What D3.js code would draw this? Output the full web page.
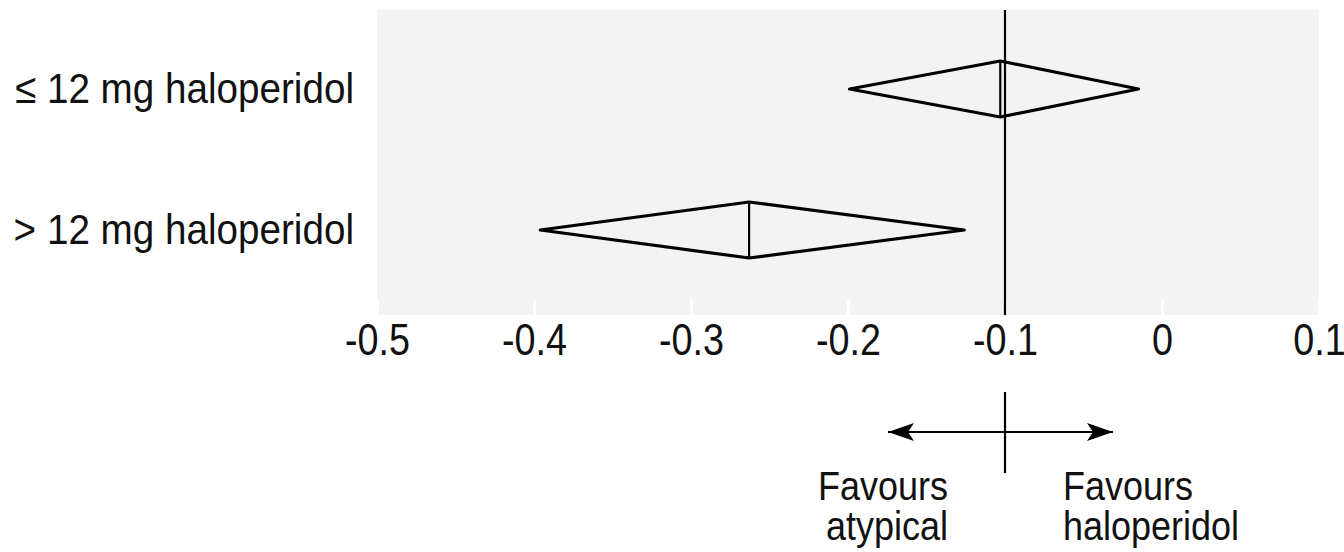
<!DOCTYPE html>
<html>
<head>
<meta charset="utf-8">
<script src="https://cdn.jsdelivr.net/npm/d3@7"></script>
<style>
  html, body { margin: 0; padding: 0; background: #ffffff; }
  svg { display: block; }
  text { font-family: "Liberation Sans", Arial, sans-serif; fill: #111; }
</style>
</head>
<body>
<script>
// ---- data ----
const categories = ["\u2264 12 mg haloperidol", "> 12 mg haloperidol"];
const estimates  = [-0.103, -0.263];
const lowerCI    = [-0.199, -0.396];
const upperCI    = [-0.015, -0.126];
const tickValues = [-0.5, -0.4, -0.3, -0.2, -0.1, 0, 0.1];
const tickLabels = ["-0.5", "-0.4", "-0.3", "-0.2", "-0.1", "0", "0.1"];
const referenceValue = -0.1;
const favourLeft  = ["Favours", "atypical"];
const favourRight = ["Favours", "haloperidol"];

// ---- layout ----
const W = 1344, H = 552;
const panel = { left: 377, right: 1319, top: 10, bottom: 315 };
const FONT = "'Liberation Sans', Arial, sans-serif";

const svg = d3.select("body").append("svg").attr("width", W).attr("height", H);

const x = d3.scaleLinear().domain([-0.5, 0.1]).range([panel.left, panel.right]);
const y = d3.scalePoint().domain(categories).range([89, 230]);

// condensed text helper
function ctext(parent, str, tx, ty, size, sx, anchor) {
  return parent.append("text")
    .attr("transform", `translate(${tx},${ty}) scale(${sx},1)`)
    .attr("font-size", size).attr("text-anchor", anchor)
    .style("font-family", FONT).attr("fill", "#111")
    .text(str);
}

// panel background
svg.append("rect")
  .attr("x", panel.left).attr("y", panel.top)
  .attr("width", panel.right - panel.left).attr("height", panel.bottom - panel.top)
  .attr("fill", "#f3f3f3");

// axis (white ticks inside panel, labels below)
const axis = d3.axisBottom(x).tickValues(tickValues)
  .tickFormat((d, i) => tickLabels[i]).tickSizeInner(-15).tickSizeOuter(0);
const gx = svg.append("g").attr("transform", `translate(0,${panel.bottom})`).call(axis);
gx.select(".domain").remove();
gx.selectAll(".tick line").attr("stroke", "#ffffff").attr("stroke-width", 3);
gx.selectAll(".tick text")
  .attr("y", 40).attr("dy", null)
  .attr("transform", "scale(0.84,1)")
  .attr("font-size", 45).attr("fill", "#111")
  .style("font-family", FONT);

// reference line
svg.append("line")
  .attr("x1", x(referenceValue)).attr("x2", x(referenceValue))
  .attr("y1", panel.top).attr("y2", panel.bottom)
  .attr("stroke", "#000").attr("stroke-width", 2.2);

// diamonds
const halfH = 28;
const rows = categories.map((c, i) => ({ c, est: estimates[i], lo: lowerCI[i], hi: upperCI[i] }));
const g = svg.append("g");
rows.forEach(r => {
  const cy = y(r.c);
  g.append("path")
    .attr("d", `M${x(r.lo)},${cy} L${x(r.est)},${cy - halfH} L${x(r.hi)},${cy} L${x(r.est)},${cy + halfH} Z`)
    .attr("fill", "none").attr("stroke", "#000").attr("stroke-width", 3.2).attr("stroke-linejoin", "round");
  g.append("line")
    .attr("x1", x(r.est)).attr("x2", x(r.est))
    .attr("y1", cy - halfH).attr("y2", cy + halfH)
    .attr("stroke", "#000").attr("stroke-width", 2.2);
});

// category labels
const gl = svg.append("g");
categories.forEach(c => ctext(gl, c, 354, y(c) + 14, 42, 0.92, "end"));

// bottom annotation: cross with arrows
const cx = x(referenceValue), ay = 432;
svg.append("defs").append("marker")
  .attr("id", "arr").attr("viewBox", "0 0 26 18").attr("refX", 26).attr("refY", 9)
  .attr("markerWidth", 26).attr("markerHeight", 18).attr("markerUnits", "userSpaceOnUse")
  .attr("orient", "auto")
  .append("path").attr("d", "M0,0 L26,9 L0,18 L6,9 Z").attr("fill", "#000");
svg.append("line").attr("x1", cx).attr("x2", cx + 108).attr("y1", ay).attr("y2", ay)
  .attr("stroke", "#000").attr("stroke-width", 2.2).attr("marker-end", "url(#arr)");
svg.append("line").attr("x1", cx).attr("x2", cx - 117).attr("y1", ay).attr("y2", ay)
  .attr("stroke", "#000").attr("stroke-width", 2.2).attr("marker-end", "url(#arr)");
svg.append("line").attr("x1", cx).attr("x2", cx).attr("y1", 392).attr("y2", 473)
  .attr("stroke", "#000").attr("stroke-width", 2.2);

const gb = svg.append("g");
favourLeft.forEach((t, i) => ctext(gb, t, cx - 57, 500 + i * 40, 40, 0.9, "end"));
favourRight.forEach((t, i) => ctext(gb, t, cx + 58, 500 + i * 40, 40, 0.9, "start"));
</script>
</body>
</html>
